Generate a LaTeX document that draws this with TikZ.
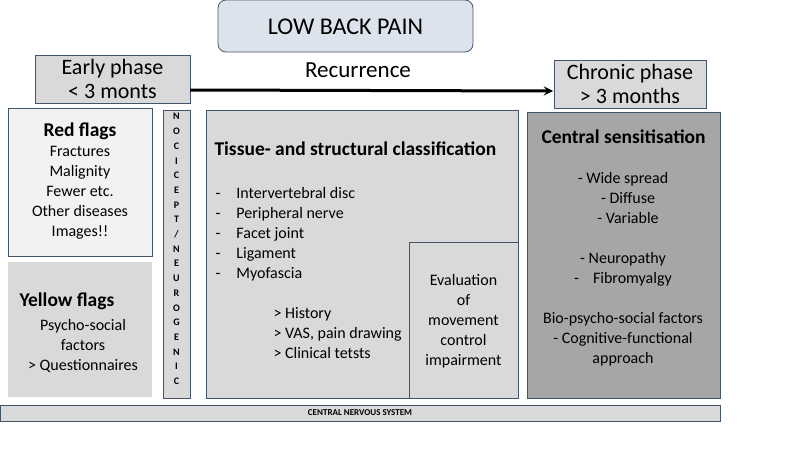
\documentclass[tikz,border=0pt]{standalone}
\usepackage{fontspec}
\setmainfont{Carlito}
\begin{document}
\begin{tikzpicture}[x=1pt,y=-1pt,
 bx/.style={draw=edge,line width=0.8pt},
 txt/.style={font=\fontsize{16}{20}\selectfont,align=center}]
\definecolor{edge}{HTML}{44546A}
\definecolor{lg}{HTML}{D9D9D9}
\definecolor{vlg}{HTML}{F2F2F2}
\definecolor{dg}{HTML}{A6A6A6}
\definecolor{tb}{HTML}{DDE3EC}
\useasboundingbox (0,0) rectangle (800,450);
\draw[bx,fill=tb,rounded corners=8pt] (218,0) rectangle (473,52);
\node[font=\fontsize{24}{28}\selectfont] (title) at (345.5,27) {LOW BACK PAIN};
\draw[bx,fill=lg] (35,55) rectangle (190,103);
\node[font=\fontsize{22}{24}\selectfont,align=center] (early) at (112.5,79) {Early phase\\< 3 monts};
\draw[bx,fill=lg] (554,60) rectangle (706,108);
\node[font=\fontsize{22}{24}\selectfont,align=center] (chronic) at (630,84) {Chronic phase\\> 3 months};
\coordinate (a1) at (190,90);
\coordinate (a2) at (553,91);
\draw[line width=3pt,-stealth] (a1) -- (a2);
\node[font=\fontsize{23}{26}\selectfont] (rec) at (358,70) {Recurrence};
% red flags
\draw[bx,fill=vlg] (8,108) rectangle (152,256);
\node[txt,font=\fontsize{16}{20}\selectfont] (red) at (80,181) {\textbf{\fontsize{19.5}{20}\selectfont Red flags}\\Fractures\\Malignity\\Fewer etc.\\Other diseases\\Images!!};
% yellow
\fill[lg] (8,262) rectangle (152,397);
\node[font=\fontsize{19.5}{22}\selectfont\bfseries,anchor=west] (yh) at (16,301) {Yellow flags};
\node[txt] (yel) at (83,346) {Psycho-social\\factors\\> Questionnaires};
% nocicept
\draw[bx,fill=lg] (163,110) rectangle (190,398);
\node[font=\fontsize{10}{14.7}\selectfont\bfseries,align=center] (noc) at (176.5,249) {N\\O\\C\\I\\C\\E\\P\\T\\/\\N\\E\\U\\R\\O\\G\\E\\N\\I\\C};
% tissue
\draw[bx,fill=lg] (206,110) rectangle (518,398);
\node[font=\fontsize{19.5}{22}\selectfont\bfseries,anchor=west] (th) at (211,149) {Tissue- and structural classification};
\node[txt,align=left,anchor=north west,font=\fontsize{16}{20}\selectfont] (tl) at (212,184) {-\hspace{16pt}Intervertebral disc\\-\hspace{16pt}Peripheral nerve\\-\hspace{16pt}Facet joint\\-\hspace{16pt}Ligament\\-\hspace{16pt}Myofascia};
\node[txt,align=left,anchor=north west,font=\fontsize{16}{20}\selectfont] (tl2) at (270,304) {> History\\> VAS, pain drawing\\> Clinical tetsts};
\draw[bx,fill=lg] (409,242) rectangle (518,398);
\node[txt,font=\fontsize{16}{20}\selectfont] (eval) at (463.5,321) {Evaluation\\of\\movement\\control\\impairment};
% central
\draw[bx,fill=dg] (527,112) rectangle (720,398);
\node[font=\fontsize{19.5}{22}\selectfont\bfseries,anchor=west] (ch) at (538,137) {Central sensitisation};
\node[txt,font=\fontsize{16}{20}\selectfont] (cl) at (623,269) {- Wide spread\\\hspace{10pt}- Diffuse\\\hspace{10pt}- Variable\\[20pt]- Neuropathy\\-\hspace{14pt}Fibromyalgy\\[20pt]Bio-psycho-social factors\\- Cognitive-functional\\approach};
% CNS
\draw[bx,fill=lg] (0,405) rectangle (720,421);
\node[font=\fontsize{9}{9}\selectfont\bfseries] (cns) at (360,413) {CENTRAL NERVOUS SYSTEM};
\end{tikzpicture}
\end{document}
